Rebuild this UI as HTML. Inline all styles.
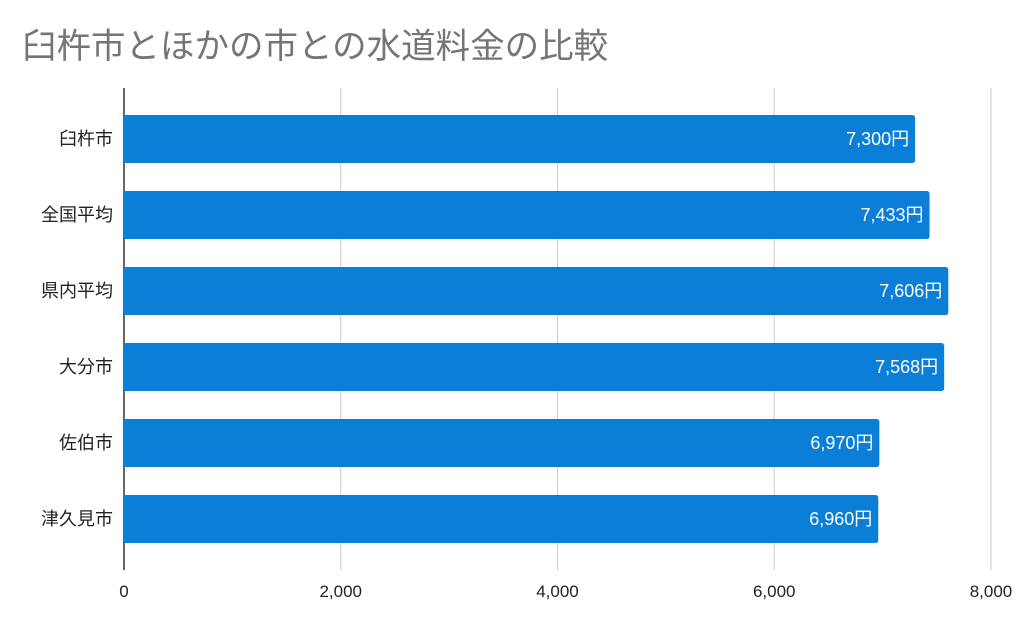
<!DOCTYPE html>
<html><head><meta charset="utf-8"><style>
body{margin:0;background:#fff;}
svg text{font-family:"Liberation Sans","Noto Sans CJK JP",sans-serif;}
</style></head><body>
<svg id="chart" width="1024" height="633" xmlns="http://www.w3.org/2000/svg">
<text x="22" y="58" font-size="34.5" fill="#757575">臼杵市とほかの市との水道料金の比較</text>
<g id="grid"></g><g id="bars"></g><g id="labels"></g>
</svg>
<script>
const categories=["臼杵市","全国平均","県内平均","大分市","佐伯市","津久見市"];
const values=[7300,7433,7606,7568,6970,6960];
const valueLabels=["7,300円","7,433円","7,606円","7,568円","6,970円","6,960円"];
const ticks=[0,2000,4000,6000,8000];
const tickLabels=["0","2,000","4,000","6,000","8,000"];
const NS="http://www.w3.org/2000/svg";
const x0=124,x1=991,plotTop=88,plotBottom=570,step=76,bh=48;
const xs=v=>x0+(x1-x0)*v/8000;
const ys=i=>plotTop+27+i*step;
function mk(t,a,p){const e=document.createElementNS(NS,t);for(const k in a)e.setAttribute(k,a[k]);p.appendChild(e);return e;}
const g=document.getElementById('grid'),b=document.getElementById('bars'),l=document.getElementById('labels');
ticks.forEach((t,i)=>{
 const ln=mk('line',{x1:xs(t),x2:xs(t),y1:plotTop,y2:plotBottom,stroke:i==0?'#333':'#ccc','stroke-width':i==0?1.5:1},g);
 
 
 const tx=mk('text',{x:xs(t),y:597,'text-anchor':'middle','font-size':17,fill:'#222'},l);
 tx.textContent=tickLabels[i];
 
 
});
categories.forEach((c,i)=>{
 const w=xs(values[i])-x0;
 const r=mk('path',{d:`M${x0},${ys(i)} h${w-3} q3,0 3,3 v${bh-6} q0,3 -3,3 h${-(w-3)} z`,fill:'#0b7fd8'},b);
 
 
 const ct=mk('text',{x:113,y:ys(i)+bh/2+6,'text-anchor':'end','font-size':18,fill:'#222'},l);
 ct.textContent=c;
 
 
 const vt=mk('text',{x:xs(values[i])-6,y:ys(i)+bh/2+6,'text-anchor':'end','font-size':18,fill:'#fff'},l);
 vt.textContent=valueLabels[i];
 
 
});
</script>
</body></html>
